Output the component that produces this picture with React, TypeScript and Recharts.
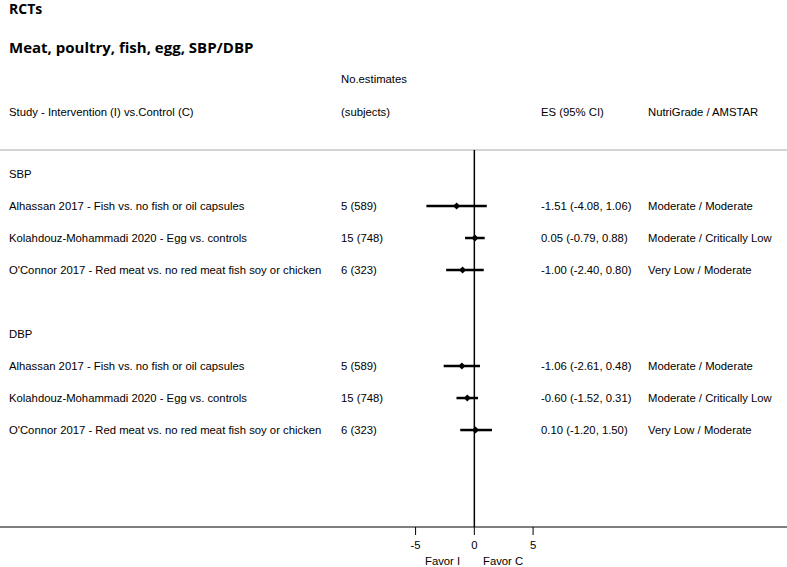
import { ErrorBar, ReferenceLine, Scatter, ScatterChart, XAxis, YAxis } from "recharts";

const FONT = '"Liberation Sans", Arial, sans-serif';
const TITLE_FONT = '"Open Sans", sans-serif';

// row slots run top to bottom: 0 = SBP header, 5 = DBP header
const groupLabels = ["SBP", "DBP"];
const groupRows = [0, 5];

const studies = [
  "Alhassan 2017 - Fish vs. no fish or oil capsules",
  "Kolahdouz-Mohammadi 2020 - Egg vs. controls",
  "O'Connor 2017 - Red meat vs. no red meat fish soy or chicken",
  "Alhassan 2017 - Fish vs. no fish or oil capsules",
  "Kolahdouz-Mohammadi 2020 - Egg vs. controls",
  "O'Connor 2017 - Red meat vs. no red meat fish soy or chicken",
];
const studyRows = [1, 2, 3, 6, 7, 8];
const estimates = [-1.51, 0.05, -1.0, -1.06, -0.6, 0.1];
const lower = [-4.08, -0.79, -2.4, -2.61, -1.52, -1.2];
const upper = [1.06, 0.88, 0.8, 0.48, 0.31, 1.5];
const counts = ["5 (589)", "15 (748)", "6 (323)", "5 (589)", "15 (748)", "6 (323)"];
const grades = [
  "Moderate / Moderate",
  "Moderate / Critically Low",
  "Very Low / Moderate",
  "Moderate / Moderate",
  "Moderate / Critically Low",
  "Very Low / Moderate",
];
const xTicks = [-5, 0, 5];

const fmt = (v: number) => v.toFixed(2);

const studyData = studies.map((name, i) => ({
  name,
  row: studyRows[i],
  es: estimates[i],
  err: [estimates[i] - lower[i], upper[i] - estimates[i]],
  n: counts[i],
  ci: `${fmt(estimates[i])} (${fmt(lower[i])}, ${fmt(upper[i])})`,
  grade: grades[i],
}));

const groupData = groupLabels.map((label, i) => ({ label, row: groupRows[i], es: 0 }));

const FS = 11.3;
const textStyle = { fontFamily: FONT, fontSize: FS, fill: "#000" };

function StudyShape(props: any) {
  const { cx, cy, payload } = props;
  const r = 3.5;
  return (
    <g>
      <polygon
        points={`${cx},${cy - r} ${cx + r},${cy} ${cx},${cy + r} ${cx - r},${cy}`}
        fill="#000"
      />
      <text x={9} y={cy} dominantBaseline="central" style={textStyle}>
        {payload.name}
      </text>
      <text x={341} y={cy} dominantBaseline="central" style={textStyle}>
        {payload.n}
      </text>
      <text x={541} y={cy} dominantBaseline="central" style={textStyle}>
        {payload.ci}
      </text>
      <text x={648} y={cy} dominantBaseline="central" style={textStyle}>
        {payload.grade}
      </text>
    </g>
  );
}

function GroupShape(props: any) {
  const { cy, payload } = props;
  return (
    <text x={9} y={cy} dominantBaseline="central" style={textStyle}>
      {payload.label}
    </text>
  );
}

const abs = (left: number, top: number, extra: object = {}) => ({
  position: "absolute" as const,
  left,
  top,
  fontFamily: FONT,
  fontSize: FS,
  lineHeight: "14px",
  whiteSpace: "nowrap" as const,
  ...extra,
});

export default function App() {
  return (
    <div style={{ position: "relative", width: 787, height: 567, background: "#fff" }}>
      <style>{`body{margin:0}`}</style>
      <div style={abs(9, 0, { fontFamily: TITLE_FONT, fontWeight: 700, fontSize: 14, lineHeight: "18px" })}>
        RCTs
      </div>
      <div style={abs(9, 36, { fontFamily: TITLE_FONT, fontWeight: 700, fontSize: 15, lineHeight: "22px" })}>
        Meat, poultry, fish, egg, SBP/DBP
      </div>
      <div style={abs(341, 72)}>No.estimates</div>
      <div style={abs(341, 105)}>(subjects)</div>
      <div style={abs(9, 105)}>Study - Intervention (I) vs.Control (C)</div>
      <div style={abs(541, 105)}>ES (95% CI)</div>
      <div style={abs(648, 105)}>NutriGrade / AMSTAR</div>
      <div style={abs(425, 554)}>Favor I</div>
      <div style={abs(483, 554)}>Favor C</div>

      <div style={{ position: "absolute", left: 0, top: 0 }}>
        <ScatterChart width={787} height={567} margin={{ top: 150, right: 0, bottom: 0, left: 0 }}>
          <XAxis
            type="number"
            dataKey="es"
            domain={[-40.37, 26.61]}
            allowDataOverflow
            ticks={xTicks}
            tickSize={8}
            tickMargin={6}
            stroke="#000"
            tick={{ fontFamily: FONT, fontSize: FS, fill: "#000" }}
            height={40}
          />
          <YAxis type="number" dataKey="row" domain={[-0.75, 11.03]} allowDataOverflow reversed hide />
          <ReferenceLine y={-0.75} stroke="#d4d4d4" strokeWidth={2} />
          <ReferenceLine x={0} stroke="#000" strokeWidth={1.5} />
          <Scatter data={groupData} shape={GroupShape} isAnimationActive={false} />
          <Scatter data={studyData} shape={StudyShape} isAnimationActive={false}>
            <ErrorBar dataKey="err" direction="x" width={0} stroke="#000" strokeWidth={2.5} />
          </Scatter>
        </ScatterChart>
      </div>
    </div>
  );
}
